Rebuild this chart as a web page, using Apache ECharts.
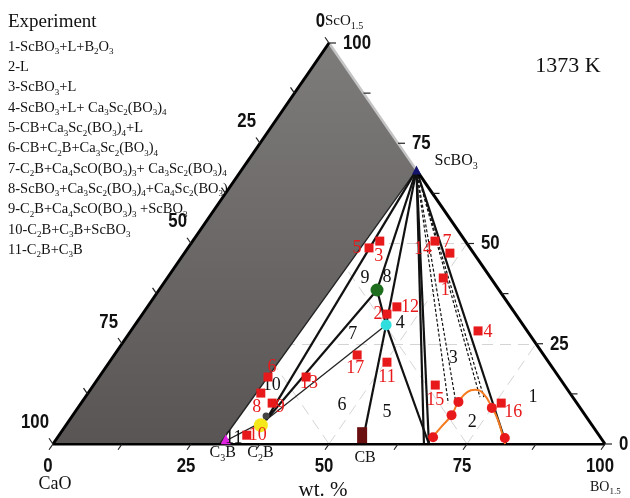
<!DOCTYPE html>
<html><head><meta charset="utf-8">
<script src="https://cdn.jsdelivr.net/npm/echarts@6/dist/echarts.min.js"></script>
<style>html,body{margin:0;padding:0;background:#fff}#c{width:630px;height:498px}</style>
</head><body><div id="c"></div>
<script>
// ---------- DATA (compositions in wt.%: [BO1.5, ScO1.5]; CaO = rest) ----------
const nodes = {
  CaO:[0,0], BO15:[100,0], ScO15:[0,100],
  ScBO3:[31.7,68.3], C3B:[30.2,0], C2B:[35.6,6.0], CB:[56.0,0],
  Ca4ScO:[39.5,38.4], Ca3Sc2:[45.5,29.7],
  L1:[67.2,0], L2:[68.1,0], L3:[82.1,0],
  D1:[66.5,10.2], D2:[67.9,10.2], D3:[71.5,11.7], D4:[72.2,11.7]
};
const unexploredRegion = ['CaO','ScO15','ScBO3','C3B'];
const outlineEdges = [['CaO','BO15'],['CaO','ScO15'],['ScBO3','BO15']];
const outlineLightEdges = [['ScO15','ScBO3']];
const tieLinesThick = [['ScBO3','C2B'],['ScBO3','Ca4ScO'],['ScBO3','Ca3Sc2'],['ScBO3','L1'],['ScBO3','L2'],['ScBO3','L3'],
  ['Ca4ScO','Ca3Sc2'],['Ca4ScO','C2B'],['Ca3Sc2','CB'],['Ca3Sc2','L2']];
const tieLinesThin = [['ScBO3','C3B'],['Ca3Sc2','C2B'],['C3B','C2B']];
const tieLinesDashed = [['ScBO3','D1'],['ScBO3','D2'],['ScBO3','D3'],['ScBO3','D4']];
const liquidus = [[67.8,1.0],[68.2,4.2],[68.6,7.2],[68.2,10.5],[68.6,13.0],[69.7,13.5],[71.5,12.7],[74.9,9.2],[77.6,6.0],[80.7,1.7],[81.9,0]];
const liquidusPoints = [[68.0,1.7],[68.6,7.2],[68.2,10.5],[75.0,9.0],[81.1,1.5]];
const expIds = ['1','2','3','4','5','6','7','8','9','10','11','12','13','14','15','16','17'];
const expComps = [[50.0,41.4],[44.3,32.4],[33.9,50.6],[62.9,28.2],[32.8,48.9],[30.6,16.7],[48.1,47.6],[31.3,12.7],[34.6,10.2],
  [34.0,2.2],[50.3,20.4],[45.2,34.2],[37.5,16.7],[43.9,50.6],[61.9,14.7],[76.1,10.2],[44.0,22.2]];
const regionIds = ['1','2','3','4','5','6','7','8','9','10','11'];
const regionComps = [[81.1,11.7],[73.2,5.5],[61.8,21.4],[47.8,30.2],[56.5,8.0],[47.5,9.7],[40.6,27.4],[39.7,41.6],[35.8,41.4],[32.3,14.7],[32.0,1.5]];
const markScBO3 = [31.7,68.3], markCa4ScO = [39.5,38.4], markCa3Sc2 = [45.5,29.7];
const markCB = [54.9,2.2], markC2B = [35.3,4.7], markC2Bdark = [35.1,7.0], markC3B = [30.7,1.2];
const tickValues = [0,12.5,25,37.5,50,62.5,75,87.5,100];
const tickLabels = ['0','25','50','75','100'];
const legendTitle = 'Experiment';
const legendItems = [
  '1-ScBO{s|3}+L+B{s|2}O{s|3}',
  '2-L',
  '3-ScBO{s|3}+L',
  '4-ScBO{s|3}+L+ Ca{s|3}Sc{s|2}(BO{s|3}){s|4}',
  '5-CB+Ca{s|3}Sc{s|2}(BO{s|3}){s|4}+L',
  '6-CB+C{s|2}B+Ca{s|3}Sc{s|2}(BO{s|3}){s|4}',
  '7-C{s|2}B+Ca{s|4}ScO(BO{s|3}){s|3}+ Ca{s|3}Sc{s|2}(BO{s|3}){s|4}',
  '8-ScBO{s|3}+Ca{s|3}Sc{s|2}(BO{s|3}){s|4}+Ca{s|4}Sc{s|2}(BO{s|3}){s|3}',
  '9-C{s|2}B+Ca{s|4}ScO(BO{s|3}){s|3} +ScBO{s|3}',
  '10-C{s|2}B+C{s|3}B+ScBO{s|3}',
  '11-C{s|2}B+C{s|3}B'
];
const nameTexts = [
  ['ScBO3','ScBO{s|3}'], ['ScO15','ScO{s|1.5}'], ['CaO','CaO'], ['BO15','BO{s|1.5}'],
  ['C3B','C{s|3}B'], ['C2B','C{s|2}B'], ['CB','CB'], ['mid','wt. %']
];
const tempText = '1373 K';

// ---------- STYLE ----------
const serif = "'Liberation Serif','Times New Roman',serif";
const sans = "'Liberation Sans',Arial,sans-serif";
const red = '#e8191b';
const expLabelOffsets = [[2,12],[-9,0],[-1,15],[10,1],[-12,0],[4,-10],[-3,-11],[-4,14],[8,4],[11,0],[0,15],[13,0],[3,6],[-12,8],[0,15],[12,9],[-2,13]];
const nameStyles = {
  ScBO3:{dx:18,dy:-9,align:'left',size:16}, ScO15:{dx:-4,dy:-22,align:'left',size:15},
  CaO:{dx:2,dy:40,align:'center',size:18}, BO15:{dx:-15,dy:43,align:'left',size:14},
  C3B:{dx:3,dy:9,align:'center',size:16}, C2B:{dx:-4,dy:9,align:'center',size:16},
  CB:{dx:3,dy:14,align:'center',size:16}, mid:{dx:-6,dy:46,align:'center',size:21}
};
const nameAnchors = {ScBO3:nodes.ScBO3, ScO15:nodes.ScO15, CaO:nodes.CaO, BO15:nodes.BO15, C3B:nodes.C3B, C2B:[38.3,0], CB:nodes.CB, mid:[50,0]};

const toXY = c => [c[0] + c[1]/2, c[1]];
const seg = pairs => pairs.map(p => ({coords:[toXY(nodes[p[0]]), toXY(nodes[p[1]])]}));
function rich(fs){ const s = Math.round(fs*0.64); return {s:{fontSize:s, fontFamily:serif, lineHeight:s, verticalAlign:'bottom'}}; }

// edges for ticks: bottom (BO1.5 = v), right (ScO1.5 = v), left (CaO = v)
const edgeNames = ['bottom','right','left'];
function edgePoint(e, v){ if(e===0) return [v,0]; if(e===1) return [100-v,v]; return [0,100-v]; }
const edgeDir = [[-0.567,0.824],[1,0],[-0.568,-0.823]];
const tickData = [];
edgeNames.forEach((n,e)=>tickValues.forEach(v=>tickData.push([...toXY(edgePoint(e,v)), e])));
const tickLabelData = [];
edgeNames.forEach((n,e)=>tickLabels.forEach((t,i)=>tickLabelData.push([...toXY(edgePoint(e,+t)), e, i])));

// grid lines 25/50/75
const gridSegs = [];
[25,50,75].forEach(v=>{
  gridSegs.push({coords:[toXY([0,v]), toXY([100-v,v])]});
  gridSegs.push({coords:[toXY([v,0]), toXY([v,100-v])]});
  gridSegs.push({coords:[toXY([100-v,0]), toXY([0,100-v])]});
});

const chart = echarts.init(document.getElementById('c'));
const graphic = [{type:'text', x:8, y:22, z:0, style:{text:legendTitle, fontFamily:serif, fontSize:19, fill:'#111', align:'left', verticalAlign:'middle'}}];
legendItems.forEach((t,i)=>graphic.push({type:'text', x:8, y:47+i*20.3, z:0,
  style:{text:t, rich:rich(14.5), fontFamily:serif, fontSize:14.5, lineHeight:19, fill:'#111', align:'left', verticalAlign:'middle'}}));
graphic.push({type:'text', x:568, y:66, z:0, style:{text:tempText, fontFamily:serif, fontSize:22, fill:'#111', align:'center', verticalAlign:'middle'}});

const option = {
  animation:false,
  graphic: graphic,
  grid:{left:53, top:43, width:552, height:401},
  xAxis:{type:'value', min:0, max:100, show:false},
  yAxis:{type:'value', min:0, max:100, show:false},
  series:[
    {type:'lines', coordinateSystem:'cartesian2d', z:1, silent:true, data:gridSegs,
      lineStyle:{color:'#d4d4d4', width:1, type:[11,7], opacity:1}},
    {type:'custom', coordinateSystem:'cartesian2d', z:3, data:[[0,0]],
      renderItem:(p,api)=>({type:'polygon', shape:{points:unexploredRegion.map(k=>api.coord(toXY(nodes[k])))},
        style:{fill:new echarts.graphic.LinearGradient(0,0,0,1,[{offset:0,color:'#7e7b7b'},{offset:1,color:'#595555'}])}})},
    {type:'lines', coordinateSystem:'cartesian2d', z:4, data:seg(outlineLightEdges), lineStyle:{color:'#c4c4c4', width:2.5, opacity:1}},
    {type:'lines', coordinateSystem:'cartesian2d', z:4, data:seg(tieLinesThin), lineStyle:{color:'#222', width:1.3, opacity:1}},
    {type:'lines', coordinateSystem:'cartesian2d', z:4, data:seg(tieLinesDashed), lineStyle:{color:'#111', width:1.2, type:[3,2], opacity:1}},
    {type:'lines', coordinateSystem:'cartesian2d', z:4, data:seg(tieLinesThick), lineStyle:{color:'#111', width:2.2, opacity:1}},
    {type:'lines', coordinateSystem:'cartesian2d', z:4, data:seg(outlineEdges), lineStyle:{color:'#000', width:3, opacity:1}},
    {type:'line', z:5, smooth:0.5, symbol:'none', data:liquidus.map(toXY), lineStyle:{color:'#f47b20', width:2}},
    {type:'scatter', z:6, symbol:'circle', symbolSize:10, data:liquidusPoints.map(toXY), itemStyle:{color:red, opacity:1}},
    {type:'custom', coordinateSystem:'cartesian2d', z:6, data:tickData,
      renderItem:(p,api)=>{const q=api.coord([api.value(0),api.value(1)]); const d=edgeDir[api.value(2)];
        return {type:'line', shape:{x1:q[0],y1:q[1],x2:q[0]+d[0]*7,y2:q[1]+d[1]*7}, style:{stroke:'#222', lineWidth:1.2}};}},
    {type:'custom', coordinateSystem:'cartesian2d', z:7, data:tickLabelData,
      renderItem:(p,api)=>{const q=api.coord([api.value(0),api.value(1)]); const e=api.value(2);
        const off=[[-5,22,'center'],[14,0,'left'],[-4,-22,'right']][e];
        return {type:'text', x:q[0]+off[0], y:q[1]+off[1], scaleX:0.8, style:{text:tickLabels[api.value(3)], fontFamily:sans, fontSize:21, fontWeight:'bold', fill:'#111', align:off[2], verticalAlign:'middle'}};}},
    {type:'scatter', z:6, symbol:'triangle', symbolSize:9, data:[toXY(markScBO3)], itemStyle:{color:'#14146e', opacity:1}},
    {type:'scatter', z:6, symbol:'circle', symbolSize:13, data:[toXY(markCa4ScO)], itemStyle:{color:'#1f6e1f', opacity:1}},
    {type:'scatter', z:6, symbol:'circle', symbolSize:11, data:[toXY(markCa3Sc2)], itemStyle:{color:'#30dede', opacity:1}},
    {type:'scatter', z:6, symbol:'rect', symbolSize:[10,16], data:[toXY(markCB)], itemStyle:{color:'#6b1010', opacity:1}},
    {type:'scatter', z:6, symbol:'circle', symbolSize:14, data:[toXY(markC2B)], itemStyle:{color:'#f4e81a', opacity:1}},
    {type:'scatter', z:6, symbol:'circle', symbolSize:7, data:[toXY(markC2Bdark)], itemStyle:{color:'#444', opacity:1}},
    {type:'scatter', z:6, symbol:'triangle', symbolSize:10, data:[toXY(markC3B)], itemStyle:{color:'#e020e0', opacity:1}},
    {type:'scatter', z:8, symbol:'rect', symbolSize:9, itemStyle:{color:red, opacity:1},
      data:expComps.map((c,i)=>({value:toXY(c), label:{show:true, formatter:expIds[i], offset:expLabelOffsets[i], position:'inside',
        color:red, fontFamily:serif, fontSize:18}}))},
    {type:'custom', coordinateSystem:'cartesian2d', z:8, data:regionComps.map((c,i)=>[...toXY(c), i]),
      renderItem:(p,api)=>{const q=api.coord([api.value(0),api.value(1)]);
        return {type:'text', x:q[0], y:q[1], style:{text:regionIds[api.value(2)], fontFamily:serif, fontSize:18, fill:'#111', align:'center', verticalAlign:'middle'}};}},
    {type:'custom', coordinateSystem:'cartesian2d', z:8, data:nameTexts.map((t,i)=>[...toXY(nameAnchors[t[0]]), i]),
      renderItem:(p,api)=>{const q=api.coord([api.value(0),api.value(1)]); const t=nameTexts[api.value(2)]; const st=nameStyles[t[0]];
        return {type:'text', x:q[0]+st.dx, y:q[1]+st.dy, style:{text:t[1], rich:rich(st.size), fontFamily:serif, fontSize:st.size, lineHeight:Math.round(st.size*1.3), fill:'#111', align:st.align, verticalAlign:'middle'}};}}
  ]
};
chart.setOption(option);
</script></body></html>
